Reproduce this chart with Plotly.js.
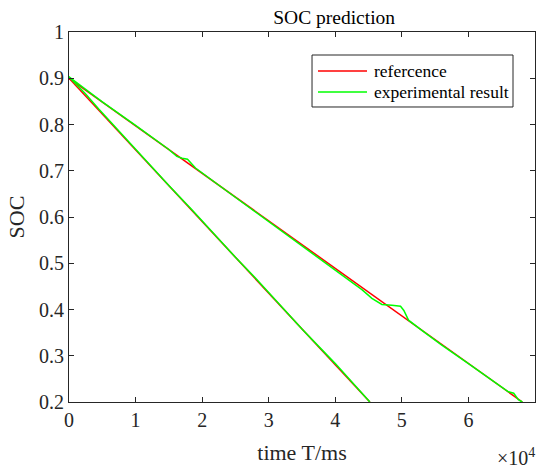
<!DOCTYPE html>
<html>
<head>
<meta charset="utf-8">
<script src="https://cdn.plot.ly/plotly-3.0.1.min.js"></script>
<style>html,body{margin:0;padding:0;background:#fff;}#chart{width:539px;height:469px;}</style>
</head>
<body>
<div id="chart"></div>
<script>
// time in ms
var refATime = [0, 10000, 20000, 30000, 40000, 45200];
var refASoc  = [0.900, 0.745, 0.590, 0.435, 0.281, 0.200];
var expATime = [0, 2500, 4500, 10000, 15000, 18500, 20000, 25000, 28000, 30000, 35000, 40000, 42000, 45200];
var expASoc  = [0.903, 0.866, 0.833, 0.746, 0.668, 0.615, 0.591, 0.513, 0.468, 0.436, 0.358, 0.283, 0.251, 0.200];

var refBTime = [0, 10000, 20000, 30000, 40000, 50000, 60000, 68100];
var refBSoc  = [0.900, 0.797, 0.694, 0.592, 0.489, 0.386, 0.283, 0.200];
var expBTime = [0, 5000, 10000, 15000, 16200, 17000, 17800, 18300, 19000, 22000, 26000, 30000, 35000, 40000, 44000, 45500, 47000, 48500, 49800, 50300, 51000, 53000, 56000, 60000, 64000, 66000, 66800, 67500, 68100];
var expBSoc  = [0.903, 0.849, 0.798, 0.746, 0.731, 0.727, 0.725, 0.718, 0.706, 0.674, 0.632, 0.590, 0.538, 0.486, 0.443, 0.424, 0.411, 0.409, 0.407, 0.398, 0.377, 0.355, 0.323, 0.283, 0.241, 0.222, 0.219, 0.205, 0.200];

var xTickVals = [0, 10000, 20000, 30000, 40000, 50000, 60000, 70000];
var xTickText = ['0', '1', '2', '3', '4', '5', '6', '7'];
var yTickVals = [0.2, 0.3, 0.4, 0.5, 0.6, 0.7, 0.8, 0.9, 1];
var legendNames = ['refercence', 'experimental result'];

var serif = 'Liberation Serif, Times New Roman, serif';
var ink = '#262626';
var RED = '#ff0000', GREEN = '#00ff00';

var traces = [
  {x: refATime, y: refASoc, type: 'scatter', mode: 'lines', name: legendNames[0], showlegend: false,
   line: {color: RED, width: 1.5}},
  {x: refBTime, y: refBSoc, type: 'scatter', mode: 'lines', name: legendNames[0], showlegend: false,
   line: {color: RED, width: 1.5}},
  {x: expATime, y: expASoc, type: 'scatter', mode: 'lines', name: legendNames[1], showlegend: false,
   line: {color: GREEN, width: 1.5}},
  {x: expBTime, y: expBSoc, type: 'scatter', mode: 'lines', name: legendNames[1], showlegend: false,
   line: {color: GREEN, width: 1.5}}
];

// legend box (paper coords relative to plot area)
var lx0 = 0.5215, lx1 = 0.9528, ly0 = 0.7973, ly1 = 0.9378;
var sx0 = 0.5343, sx1 = 0.6395, tx = 0.6502;
var rowY = [0.8946, 0.8378];
var rowColor = [RED, GREEN];

var shapes = [
  {type: 'rect', xref: 'paper', yref: 'paper', x0: lx0, x1: lx1, y0: ly0, y1: ly1,
   line: {color: ink, width: 1}, fillcolor: '#fff', layer: 'above'}
];
var annotations = [];
for (var i = 0; i < 2; i++) {
  shapes.push({type: 'line', xref: 'paper', yref: 'paper', x0: sx0, x1: sx1, y0: rowY[i], y1: rowY[i],
               line: {color: rowColor[i], width: 1.5}, layer: 'above'});
  annotations.push({text: legendNames[i], xref: 'paper', yref: 'paper', x: tx, y: rowY[i],
                    xanchor: 'left', yanchor: 'middle', showarrow: false,
                    font: {family: serif, size: 17.5, color: '#000'}});
}
annotations.push({text: '\u00d710<sup>4</sup>', xref: 'paper', yref: 'paper', x: 1.004, y: -0.148,
     xanchor: 'right', yanchor: 'middle', showarrow: false,
     font: {family: serif, size: 20, color: ink}});

var layout = {
  width: 539, height: 469,
  margin: {l: 69, r: 4, t: 32, b: 67},
  paper_bgcolor: '#fff', plot_bgcolor: '#fff',
  font: {family: serif, color: ink, size: 20},
  showlegend: false,
  title: {text: 'SOC prediction', font: {family: serif, size: 19.5, color: '#000'},
          xref: 'paper', x: 0.569, xanchor: 'center', yref: 'container', y: 1 - 17/469, yanchor: 'middle'},
  xaxis: {range: [0, 70000], tickvals: xTickVals, ticktext: xTickText,
          showline: true, linecolor: ink, linewidth: 1, mirror: 'ticks',
          ticks: 'inside', ticklen: 5, tickcolor: ink, tickwidth: 1,
          showgrid: false, zeroline: false, automargin: false,
          tickfont: {family: serif, size: 20, color: ink},
          title: {text: 'time T/ms', font: {family: serif, size: 22, color: ink}, standoff: 14}},
  yaxis: {range: [0.2, 1], tickvals: yTickVals,
          showline: true, linecolor: ink, linewidth: 1, mirror: 'ticks',
          ticks: 'inside', ticklen: 5, tickcolor: ink, tickwidth: 1,
          showgrid: false, zeroline: false, automargin: false,
          tickfont: {family: serif, size: 20, color: ink},
          title: {text: 'SOC', font: {family: serif, size: 22, color: ink}, standoff: 8}},
  shapes: shapes,
  annotations: annotations
};

Plotly.newPlot('chart', traces, layout, {displayModeBar: false, staticPlot: true});
</script>
</body>
</html>
